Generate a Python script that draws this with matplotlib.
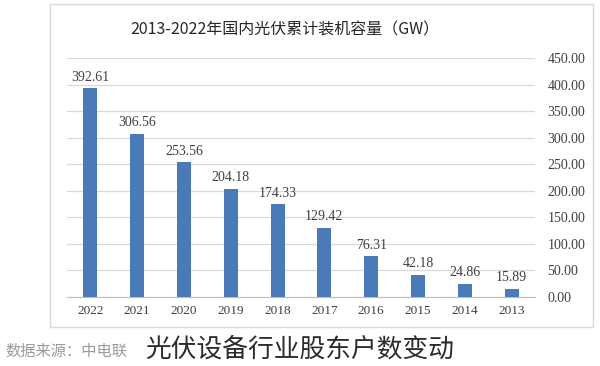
"""2013-2022 cumulative PV installed capacity bar chart"""

import matplotlib.pyplot as plt
from matplotlib.patches import Rectangle

plt.rcParams['font.family'] = ['Noto Sans CJK SC', 'DejaVu Sans']

# data (the reference is mirrored: newest year on the left, axis on the right)
years = ['2022', '2021', '2020', '2019', '2018', '2017', '2016', '2015', '2014', '2013']
capacity = [392.61, 306.56, 253.56, 204.18, 174.33, 129.42, 76.31, 42.18, 24.86, 15.89]
y_ticks = [0, 50, 100, 150, 200, 250, 300, 350, 400, 450]
y_labels = ['0.00', '50.00', '100.00', '150.00', '200.00', '250.00',
            '300.00', '350.00', '400.00', '450.00']

fig = plt.figure(figsize=(6, 3.66), dpi=100)

# outer chart box
fig.patches.append(Rectangle((50 / 600, 1 - 327 / 366), 543 / 600, 323 / 366,
                             transform=fig.transFigure, fill=False,
                             edgecolor='#d9d9d9', linewidth=1.0))

ax = fig.add_axes([67 / 600, 1 - 297 / 366, 468 / 600, 239 / 366])

x = list(range(len(years)))
ax.bar(x, capacity, width=0.3, color='#4a7ab8', zorder=3)

for xi, val in zip(x, capacity):
    ax.text(xi, val + 9, f'{val:.2f}', ha='center', va='bottom',
            fontsize=10, family='Liberation Serif', color='#404040')

ax.set_xlim(-0.5, len(years) - 0.5)
ax.set_ylim(0, 450)
ax.set_xticks(x)
ax.set_xticklabels(years, family='Liberation Serif', fontsize=9.5, color='#404040')
ax.yaxis.tick_right()
ax.set_yticks(y_ticks)
ax.set_yticklabels(y_labels, family='Liberation Serif', fontsize=10, color='#404040')
ax.tick_params(axis='both', length=0)
ax.tick_params(axis='y', pad=9)
ax.tick_params(axis='x', pad=6)
ax.grid(axis='y', color='#d9d9d9', linewidth=0.9, zorder=0)
for side in ['top', 'left', 'right']:
    ax.spines[side].set_visible(False)
ax.spines['bottom'].set_color('#bfbfbf')

fig.text(285 / 600, 1 - 30 / 366, '2013-2022年国内光伏累计装机容量（GW）',
         ha='center', va='center', fontsize=11.5, color='#262626')

fig.text(5 / 600, 1 - 351 / 366, '数据来源：中电联', ha='left', va='center',
         fontsize=11, color='#9a9a9a')
fig.text(145 / 600, 1 - 350 / 366, '光伏设备行业股东户数变动', ha='left', va='center',
         fontsize=18.5, color='#2b2b2b')

fig.savefig('out.png', dpi=100)
